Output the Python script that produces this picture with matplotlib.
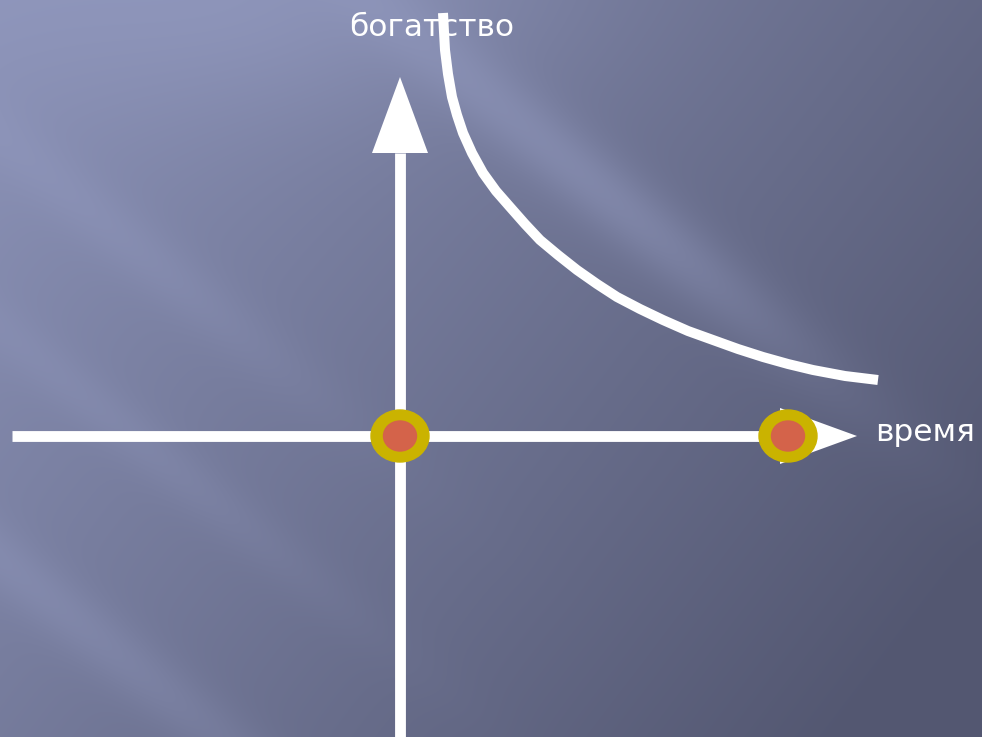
import numpy as np
import matplotlib.pyplot as plt
from matplotlib.patches import Ellipse

# picture coordinates (pixels, y grows downward)
origin = (400, 436)
x_axis = [12, 780]           # horizontal line start / arrow base
x_tip = 857
y_axis = [737, 153]          # vertical line bottom / arrow base
y_tip = 77
head_half = 28

curve_x = [443, 444, 445, 448, 452, 457, 463, 472, 483, 496, 510, 525, 540, 558, 577, 597,
           617, 640, 663, 688, 713, 738, 763, 788, 813, 845, 878]
curve_y = [13, 32, 50, 74, 97, 115, 133, 153, 173, 191, 207, 224, 240, 255, 270, 284,
           297, 309, 320, 331, 340, 349, 357, 364, 370, 376, 380]

dots_x = [400, 788]
dots_y = [436, 436]

label_y = "богатство"
label_x = "время"

W, H = 982, 737
fig = plt.figure(figsize=(W / 100, H / 100), dpi=100)
ax = fig.add_axes([0, 0, 1, 1])
ax.set_xlim(0, W)
ax.set_ylim(H, 0)
ax.axis('off')

# background: bluish gradient with soft diagonal streaks
yy, xx = np.mgrid[0:H, 0:W]
t = np.clip(0.7 * xx / W + 0.4 * yy / H, 0, 1)[..., None]
top = np.array([0x8c, 0x93, 0xb8]) / 255
bot = np.array([0x53, 0x57, 0x71]) / 255
bg = top * (1 - t) + bot * t
d = yy - 0.8 * xx
glow = 0.05 * np.exp(-((xx - 300) / 250.0) ** 2 - (yy / 120.0) ** 2)
streak = (0.08 * np.exp(-((d + 290) / 45.0) ** 2) * np.exp(-((xx - 620) / 220.0) ** 2)
          + 0.045 * np.exp(-((d - 560) / 40.0) ** 2) * np.exp(-((xx - 100) / 300.0) ** 2)
          + 0.03 * np.exp(-((d - 330) / 35.0) ** 2) * np.exp(-((xx - 150) / 220.0) ** 2)
          + 0.03 * np.exp(-((d - 140) / 40.0) ** 2) * np.exp(-((xx - 150) / 200.0) ** 2))
bg = np.clip(bg + (streak + glow)[..., None] * np.array([0.9, 0.95, 1.1]), 0, 1)
ax.imshow(bg, extent=(0, W, H, 0), aspect='auto', zorder=0, interpolation='bilinear')

white = 'white'
lw = 7.8

# horizontal axis with arrow
ax.plot(x_axis, [origin[1], origin[1]], color=white, lw=lw, solid_capstyle='butt', zorder=2)
ax.fill([x_axis[1], x_tip, x_axis[1]],
        [origin[1] - head_half, origin[1], origin[1] + head_half], color=white, lw=0, zorder=2)

# vertical axis with arrow
ax.plot([origin[0], origin[0]], y_axis, color=white, lw=lw, solid_capstyle='butt', zorder=2)
ax.fill([origin[0] - head_half, origin[0], origin[0] + head_half],
        [y_axis[1], y_tip, y_axis[1]], color=white, lw=0, zorder=2)

# curve
ax.plot(curve_x, curve_y, color=white, lw=7.2, solid_capstyle='butt',
        solid_joinstyle='round', zorder=3)

# dots
for cx, cy in zip(dots_x, dots_y):
    ax.add_patch(Ellipse((cx, cy), 58, 52, color='#cab300', zorder=4))
    ax.add_patch(Ellipse((cx, cy), 33, 30, color='#d4634a', zorder=5))

ax.text(432, 27, label_y, color=white, fontsize=22.5, ha='center', va='center', zorder=1)
ax.text(925, 432, label_x, color=white, fontsize=22.5, ha='center', va='center', zorder=1)

fig.savefig('out.png', dpi=100)
